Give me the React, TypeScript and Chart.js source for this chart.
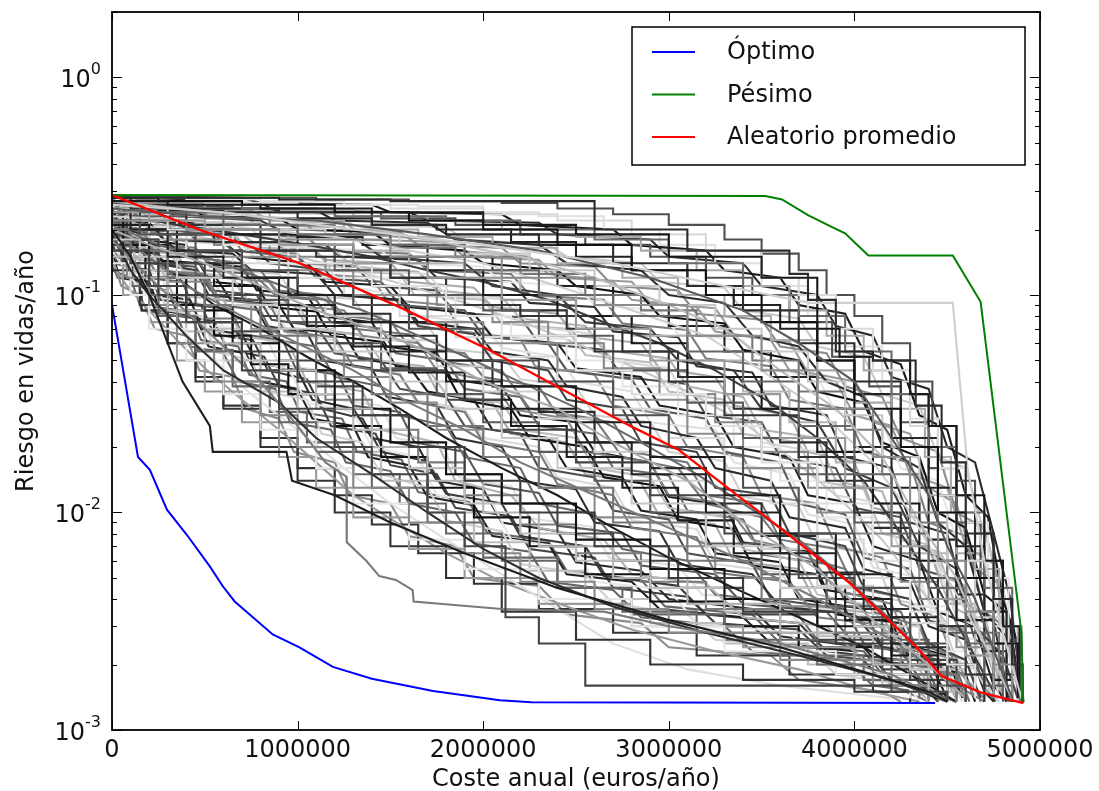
import React, { useEffect, useRef } from "react";
import { Chart, registerables } from "chart.js";

Chart.register(...registerables);

const FONT = '"DejaVu Sans", "Liberation Sans", sans-serif';

// Axis ranges and ticks
const costMax = 5000000;
const costTicks = [0, 1000000, 2000000, 3000000, 4000000, 5000000];
const riskMin = 0.001;
const riskMax = 2;
const riskDecades = [-3, -2, -1, 0];

const xTitle = "Coste anual (euros/año)";
const yTitle = "Riesgo en vidas/año";
const legendLabels = ["Óptimo", "Pésimo", "Aleatorio promedio"];

// Óptimo
const optimoCost = [0, 140000, 204000, 296000, 403000, 527000, 597000, 661000, 866000, 1010000, 1190000, 1400000, 1730000, 2090000, 2260000, 4435000];
const optimoRisk = [0.09, 0.018, 0.0157, 0.0103, 0.0079, 0.00565, 0.00458, 0.0039, 0.00275, 0.0024, 0.00195, 0.00172, 0.00151, 0.00137, 0.00134, 0.00133];

// Pésimo
const pesimoCost = [0, 3520000, 3610000, 3750000, 3880000, 3950000, 4075000, 4530000, 4680000, 4900000, 4910000];
const pesimoRisk = [0.288, 0.285, 0.275, 0.233, 0.205, 0.192, 0.152, 0.152, 0.093, 0.0028, 0.00133];

// Aleatorio promedio
const promedioCost = [0, 473000, 1010000, 1550000, 2030000, 2800000, 3050000, 3380000, 3520000, 3970000, 4330000, 4470000, 4680000, 4910000];
const promedioRisk = [0.288, 0.199, 0.14, 0.088, 0.056, 0.0248, 0.0195, 0.0118, 0.0096, 0.00478, 0.00243, 0.00177, 0.00149, 0.00133];

// Individual random orderings: [coste (miles de euros/año), riesgo (vidas/año)]
const randomRuns: number[][][] = [
  [[0,0.28],[400,0.28],[900,0.275],[1500,0.27],[2350,0.27],[2600,0.2],[3100,0.16],[3650,0.125],[3750,0.095],[3900,0.055],[4100,0.05],[4330,0.031],[4470,0.017],[4600,0.008],[4750,0.004],[4850,0.002],[4905,0.00135]],
  [[0,0.26],[600,0.24],[1300,0.2],[2000,0.17],[2700,0.14],[3300,0.11],[3760,0.092],[4530,0.092],[4610,0.016],[4700,0.006],[4800,0.0028],[4900,0.0014]],
  [[0,0.27],[300,0.26],[800,0.25],[1400,0.24],[2000,0.21],[2500,0.19],[3000,0.15],[3500,0.12],[3800,0.07],[3920,0.052],[4100,0.05],[4300,0.035],[4400,0.025],[4550,0.012],[4700,0.006],[4800,0.003],[4890,0.0015]],
  [[0,0.25],[500,0.23],[1100,0.22],[1700,0.19],[2300,0.16],[2900,0.12],[3400,0.085],[3700,0.06],[4000,0.04],[4200,0.022],[4400,0.012],[4500,0.007],[4650,0.004],[4780,0.002],[4850,0.0014]],
  [[0,0.22],[400,0.2],[900,0.18],[1500,0.15],[2100,0.12],[2600,0.09],[3100,0.065],[3500,0.045],[3800,0.03],[4100,0.018],[4300,0.01],[4450,0.006],[4600,0.0035],[4750,0.002],[4850,0.0014]],
  [[0,0.2],[100,0.15],[200,0.1],[380,0.04],[527,0.025],[543,0.019],[940,0.019],[970,0.014],[1200,0.012],[1500,0.009],[1900,0.0065],[2400,0.0045],[3000,0.0032],[3600,0.0024],[4100,0.0018],[4400,0.0015],[4500,0.00135]],
  [[0,0.16],[200,0.11],[400,0.075],[700,0.045],[900,0.03],[1200,0.02],[1400,0.015],[1700,0.01],[1900,0.007],[2120,0.0033],[2300,0.0025],[2550,0.0016],[3500,0.0016],[4200,0.0015],[4500,0.00135]],
  [[0,0.18],[200,0.12],[500,0.07],[800,0.04],[1000,0.025],[1150,0.017],[1263,0.0146],[1265,0.0073],[1370,0.006],[1440,0.0051],[1530,0.0049],[1620,0.0044],[1625,0.0039],[2100,0.0036],[2650,0.0035],[3000,0.003],[3600,0.0025],[4200,0.0018],[4500,0.00135]],
  [[0,0.28],[250,0.27],[700,0.26],[1200,0.24],[1600,0.22],[2000,0.2],[2400,0.17],[2800,0.13],[3200,0.1],[3500,0.075],[3800,0.05],[4000,0.03],[4250,0.02],[4450,0.01],[4600,0.005],[4750,0.0025],[4880,0.0014]],
  [[0,0.27],[350,0.25],[800,0.23],[1300,0.21],[1700,0.18],[2200,0.15],[2600,0.12],[3000,0.09],[3300,0.07],[3600,0.045],[3900,0.03],[4150,0.018],[4350,0.009],[4550,0.005],[4700,0.0025],[4850,0.0014]],
  [[0,0.26],[150,0.24],[600,0.21],[1000,0.19],[1500,0.17],[1900,0.13],[2300,0.1],[2700,0.08],[3100,0.055],[3400,0.04],[3700,0.025],[4000,0.015],[4200,0.008],[4400,0.0045],[4600,0.0025],[4800,0.0015]],
  [[0,0.24],[200,0.22],[500,0.2],[900,0.17],[1300,0.14],[1700,0.12],[2100,0.095],[2500,0.07],[2900,0.05],[3300,0.035],[3600,0.022],[3950,0.013],[4200,0.007],[4400,0.004],[4600,0.0022],[4750,0.0014]],
  [[0,0.28],[100,0.25],[400,0.21],[800,0.16],[1100,0.15],[1500,0.12],[1900,0.09],[2200,0.08],[2600,0.055],[3000,0.04],[3300,0.028],[3700,0.018],[4000,0.01],[4250,0.005],[4450,0.003],[4600,0.0018],[4700,0.00135]],
  [[0,0.25],[300,0.2],[600,0.17],[1000,0.14],[1400,0.11],[1800,0.08],[2100,0.065],[2500,0.045],[2800,0.035],[3200,0.025],[3500,0.017],[3800,0.011],[4100,0.006],[4300,0.0035],[4500,0.002],[4650,0.0014]],
  [[0,0.22],[150,0.19],[450,0.16],[700,0.13],[1000,0.11],[1300,0.09],[1600,0.07],[2000,0.05],[2300,0.04],[2700,0.028],[3000,0.02],[3400,0.013],[3700,0.008],[4000,0.0045],[4300,0.0025],[4500,0.0016],[4600,0.00135]],
  [[0,0.2],[200,0.17],[500,0.14],[800,0.11],[1100,0.085],[1400,0.07],[1700,0.055],[2000,0.04],[2400,0.03],[2700,0.021],[3100,0.014],[3400,0.009],[3800,0.0055],[4100,0.0032],[4400,0.002],[4600,0.0014]],
  [[0,0.24],[100,0.2],[300,0.15],[600,0.12],[900,0.09],[1200,0.075],[1500,0.055],[1800,0.04],[2100,0.03],[2500,0.021],[2800,0.015],[3200,0.01],[3600,0.0065],[3900,0.004],[4200,0.0025],[4450,0.0015]],
  [[0,0.18],[150,0.15],[350,0.12],[650,0.09],[900,0.07],[1200,0.055],[1500,0.04],[1800,0.03],[2100,0.022],[2400,0.016],[2800,0.011],[3200,0.007],[3600,0.0045],[4000,0.003],[4300,0.0019],[4500,0.0014]],
  [[0,0.2],[100,0.16],[300,0.12],[500,0.09],[800,0.065],[1100,0.05],[1400,0.035],[1700,0.025],[2000,0.018],[2300,0.013],[2700,0.009],[3100,0.006],[3500,0.004],[3900,0.0028],[4300,0.0018],[4550,0.00135]],
  [[0,0.17],[100,0.14],[250,0.1],[500,0.075],[700,0.055],[1000,0.04],[1300,0.028],[1600,0.02],[1900,0.014],[2200,0.01],[2600,0.007],[3000,0.005],[3400,0.0035],[3900,0.0025],[4300,0.0017],[4500,0.0014]],
  [[0,0.15],[150,0.12],[300,0.085],[500,0.06],[800,0.045],[1100,0.03],[1400,0.02],[1700,0.014],[2000,0.01],[2300,0.007],[2700,0.005],[3100,0.0038],[3600,0.0028],[4100,0.002],[4400,0.0015],[4550,0.00135]],
  [[0,0.19],[100,0.13],[200,0.1],[400,0.065],[600,0.045],[900,0.032],[1100,0.022],[1400,0.015],[1700,0.01],[2000,0.0068],[2300,0.005],[2700,0.0037],[3200,0.0028],[3700,0.0022],[4200,0.0017],[4450,0.0014]],
  [[0,0.16],[80,0.12],[200,0.09],[350,0.06],[550,0.04],[800,0.028],[1000,0.02],[1300,0.013],[1600,0.009],[1900,0.0065],[2200,0.0048],[2600,0.0036],[3000,0.0028],[3600,0.0021],[4100,0.0016],[4400,0.00135]],
  [[0,0.14],[100,0.1],[200,0.07],[400,0.05],[600,0.035],[800,0.024],[1100,0.016],[1300,0.011],[1600,0.0075],[1900,0.0055],[2300,0.004],[2800,0.003],[3300,0.0023],[3900,0.0018],[4300,0.0014]],
  [[0,0.27],[500,0.265],[1000,0.26],[1500,0.25],[2000,0.235],[2400,0.22],[2800,0.19],[3200,0.16],[3500,0.12],[3700,0.1],[3900,0.07],[4100,0.045],[4300,0.025],[4450,0.012],[4600,0.006],[4750,0.003],[4900,0.0014]],
  [[0,0.28],[200,0.27],[700,0.25],[1200,0.23],[1800,0.22],[2200,0.2],[2600,0.18],[3000,0.14],[3400,0.1],[3700,0.08],[3950,0.055],[4200,0.035],[4400,0.02],[4550,0.01],[4700,0.0045],[4850,0.002],[4905,0.00135]],
  [[0,0.26],[300,0.25],[900,0.24],[1400,0.21],[1800,0.19],[2300,0.17],[2700,0.14],[3100,0.11],[3400,0.085],[3700,0.06],[4000,0.04],[4250,0.022],[4450,0.012],[4650,0.006],[4800,0.003],[4900,0.0014]],
  [[0,0.23],[400,0.22],[800,0.2],[1200,0.185],[1600,0.16],[2000,0.14],[2400,0.11],[2800,0.085],[3200,0.065],[3500,0.045],[3800,0.03],[4100,0.017],[4300,0.01],[4500,0.005],[4700,0.0025],[4850,0.0014]],
  [[0,0.21],[200,0.2],[600,0.19],[1000,0.17],[1300,0.15],[1700,0.13],[2000,0.1],[2400,0.08],[2800,0.06],[3100,0.042],[3500,0.03],[3800,0.019],[4100,0.011],[4350,0.006],[4550,0.0032],[4750,0.0017],[4850,0.00135]],
  [[0,0.27],[100,0.23],[400,0.19],[800,0.17],[1200,0.13],[1600,0.1],[2000,0.085],[2300,0.065],[2700,0.045],[3100,0.032],[3400,0.022],[3700,0.015],[4000,0.009],[4300,0.005],[4500,0.0028],[4700,0.0016],[4800,0.00135]],
  [[0,0.2],[300,0.18],[600,0.15],[900,0.13],[1300,0.1],[1700,0.075],[2000,0.06],[2400,0.045],[2700,0.033],[3100,0.023],[3400,0.016],[3800,0.01],[4100,0.0065],[4350,0.004],[4550,0.0024],[4700,0.0015]],
  [[0,0.26],[150,0.2],[350,0.16],[700,0.12],[1000,0.1],[1400,0.075],[1800,0.05],[2100,0.038],[2500,0.026],[2900,0.018],[3300,0.012],[3600,0.008],[3900,0.0052],[4200,0.0033],[4450,0.002],[4650,0.0014]],
  [[0,0.22],[80,0.18],[250,0.14],[500,0.1],[800,0.08],[1100,0.06],[1400,0.045],[1800,0.033],[2100,0.024],[2500,0.017],[2900,0.012],[3300,0.008],[3700,0.005],[4000,0.0033],[4300,0.0021],[4550,0.0014]],
  [[0,0.19],[200,0.15],[400,0.11],[700,0.08],[1000,0.06],[1300,0.045],[1600,0.032],[1900,0.024],[2200,0.017],[2600,0.012],[3000,0.0085],[3400,0.006],[3800,0.004],[4200,0.0026],[4500,0.0017],[4700,0.00135]],
  [[0,0.23],[60,0.17],[200,0.12],[400,0.085],[650,0.06],[900,0.045],[1200,0.03],[1500,0.021],[1800,0.015],[2100,0.011],[2500,0.0075],[2900,0.0055],[3300,0.004],[3800,0.003],[4200,0.002],[4500,0.0015]],
  [[0,0.17],[120,0.13],[300,0.1],[500,0.07],[700,0.05],[1000,0.035],[1300,0.024],[1600,0.016],[1900,0.011],[2200,0.008],[2500,0.006],[2900,0.0045],[3300,0.0035],[3800,0.0027],[4300,0.0019],[4600,0.0014]],
  [[0,0.15],[100,0.11],[250,0.08],[450,0.055],[650,0.038],[900,0.026],[1100,0.019],[1400,0.013],[1700,0.009],[2000,0.0062],[2400,0.0045],[2800,0.0034],[3300,0.0026],[3800,0.002],[4200,0.0016],[4450,0.00135]],
  [[0,0.14],[60,0.1],[200,0.075],[350,0.05],[500,0.036],[700,0.026],[900,0.018],[1100,0.013],[1300,0.0095],[1600,0.0068],[1900,0.005],[2300,0.0038],[2800,0.003],[3400,0.0024],[4000,0.0018],[4400,0.0014]],
  [[0,0.13],[150,0.09],[300,0.06],[450,0.04],[600,0.03],[800,0.02],[1000,0.014],[1200,0.01],[1500,0.007],[1800,0.005],[2100,0.0035],[2500,0.0026],[2900,0.002],[3400,0.0017],[4000,0.0015],[4300,0.00135]],
  [[0,0.16],[100,0.12],[300,0.08],[500,0.055],[750,0.035],[1000,0.024],[1250,0.016],[1500,0.011],[1800,0.0075],[2100,0.0052],[2400,0.0036],[2700,0.0025],[3100,0.0019],[3600,0.0016],[4200,0.0014]],
  [[0,0.285],[300,0.28],[700,0.28],[1100,0.275],[1600,0.27],[2100,0.265],[2400,0.25],[2700,0.235],[3000,0.21],[3300,0.18],[3500,0.155],[3700,0.13],[3850,0.1],[4000,0.08],[4150,0.06],[4300,0.04],[4420,0.025],[4550,0.014],[4650,0.008],[4750,0.004],[4850,0.002],[4905,0.00135]],
  [[0,0.27],[150,0.265],[500,0.25],[900,0.245],[1300,0.23],[1700,0.22],[2100,0.2],[2500,0.185],[2850,0.16],[3150,0.13],[3400,0.11],[3650,0.085],[3850,0.065],[4050,0.045],[4200,0.03],[4380,0.018],[4520,0.01],[4650,0.0055],[4780,0.003],[4880,0.0016],[4905,0.00135]],
  [[0,0.25],[250,0.245],[600,0.24],[1000,0.225],[1400,0.21],[1750,0.2],[2150,0.175],[2500,0.15],[2800,0.13],[3100,0.11],[3350,0.09],[3600,0.07],[3800,0.05],[4000,0.035],[4200,0.022],[4400,0.013],[4550,0.007],[4700,0.0035],[4820,0.0018],[4900,0.0014]],
  [[0,0.23],[100,0.22],[450,0.215],[800,0.2],[1150,0.19],[1550,0.17],[1900,0.155],[2250,0.13],[2600,0.11],[2950,0.09],[3250,0.07],[3500,0.055],[3750,0.04],[3950,0.028],[4150,0.018],[4350,0.01],[4500,0.006],[4650,0.0033],[4800,0.0017],[4880,0.00135]],
  [[0,0.26],[200,0.24],[500,0.225],[850,0.21],[1200,0.19],[1500,0.165],[1850,0.15],[2200,0.125],[2550,0.1],[2850,0.085],[3150,0.065],[3450,0.05],[3700,0.036],[3950,0.024],[4150,0.015],[4350,0.009],[4500,0.005],[4650,0.0028],[4780,0.0016],[4850,0.00135]],
  [[0,0.24],[100,0.23],[350,0.21],[700,0.19],[1050,0.17],[1400,0.15],[1700,0.13],[2000,0.115],[2350,0.095],[2650,0.075],[2950,0.06],[3250,0.045],[3550,0.032],[3800,0.022],[4050,0.014],[4250,0.008],[4450,0.0045],[4600,0.0026],[4750,0.0015]],
  [[0,0.28],[120,0.26],[300,0.23],[600,0.2],[950,0.18],[1300,0.16],[1600,0.14],[1900,0.12],[2200,0.1],[2500,0.08],[2800,0.065],[3100,0.05],[3400,0.036],[3650,0.026],[3900,0.017],[4100,0.011],[4300,0.0065],[4500,0.0038],[4650,0.0022],[4800,0.0014]],
  [[0,0.2],[250,0.19],[550,0.175],[900,0.16],[1200,0.14],[1500,0.12],[1800,0.1],[2100,0.085],[2450,0.07],[2750,0.055],[3050,0.042],[3350,0.03],[3600,0.021],[3850,0.014],[4100,0.0085],[4300,0.005],[4500,0.003],[4650,0.0018],[4750,0.00135]],
  [[0,0.25],[80,0.22],[300,0.2],[550,0.17],[850,0.15],[1150,0.13],[1450,0.11],[1750,0.09],[2050,0.075],[2350,0.06],[2650,0.046],[2950,0.035],[3250,0.026],[3500,0.019],[3750,0.013],[4000,0.008],[4250,0.0048],[4450,0.0029],[4600,0.0018],[4700,0.00135]],
  [[0,0.27],[100,0.24],[350,0.2],[650,0.17],[950,0.14],[1250,0.12],[1550,0.1],[1850,0.08],[2150,0.063],[2450,0.05],[2750,0.038],[3050,0.028],[3350,0.02],[3600,0.014],[3850,0.0095],[4100,0.006],[4300,0.0037],[4500,0.0023],[4650,0.0015]],
  [[0,0.21],[150,0.19],[400,0.16],[700,0.14],[950,0.12],[1250,0.1],[1550,0.08],[1850,0.064],[2100,0.052],[2400,0.04],[2700,0.03],[3000,0.022],[3300,0.016],[3550,0.011],[3800,0.0075],[4050,0.005],[4300,0.0031],[4500,0.002],[4650,0.0014]],
  [[0,0.23],[60,0.2],[250,0.17],[500,0.15],[800,0.12],[1050,0.1],[1350,0.085],[1650,0.065],[1950,0.05],[2250,0.038],[2550,0.029],[2850,0.021],[3150,0.015],[3400,0.011],[3700,0.0075],[3950,0.005],[4200,0.0032],[4400,0.0021],[4600,0.0014]],
  [[0,0.18],[200,0.16],[450,0.14],[700,0.12],[950,0.1],[1200,0.082],[1500,0.065],[1750,0.05],[2050,0.038],[2300,0.029],[2600,0.021],[2900,0.016],[3200,0.011],[3500,0.0078],[3800,0.0053],[4050,0.0036],[4300,0.0024],[4500,0.0016],[4600,0.00135]],
  [[0,0.26],[50,0.22],[200,0.18],[400,0.15],[650,0.12],[900,0.1],[1150,0.08],[1450,0.062],[1750,0.047],[2000,0.036],[2300,0.027],[2600,0.019],[2900,0.014],[3200,0.0098],[3500,0.0068],[3800,0.0046],[4100,0.003],[4350,0.002],[4550,0.0014]],
  [[0,0.2],[100,0.17],[300,0.14],[550,0.11],[800,0.09],[1050,0.072],[1300,0.058],[1600,0.044],[1900,0.033],[2150,0.025],[2450,0.018],[2750,0.013],[3050,0.0092],[3350,0.0065],[3650,0.0045],[3950,0.0032],[4200,0.0022],[4450,0.0015]],
  [[0,0.22],[80,0.18],[250,0.15],[450,0.12],[700,0.095],[950,0.075],[1200,0.06],[1450,0.046],[1750,0.035],[2000,0.026],[2300,0.019],[2600,0.014],[2900,0.01],[3200,0.0072],[3500,0.0052],[3850,0.0037],[4150,0.0026],[4400,0.0018],[4550,0.0014]],
  [[0,0.17],[120,0.14],[300,0.115],[500,0.09],[750,0.07],[1000,0.055],[1250,0.042],[1500,0.032],[1750,0.024],[2000,0.018],[2300,0.013],[2600,0.0095],[2900,0.007],[3250,0.005],[3600,0.0037],[3950,0.0027],[4250,0.002],[4500,0.0015]],
  [[0,0.25],[50,0.2],[150,0.16],[350,0.12],[550,0.09],[800,0.07],[1050,0.052],[1300,0.04],[1550,0.03],[1800,0.022],[2100,0.016],[2400,0.012],[2700,0.0085],[3000,0.0062],[3350,0.0045],[3700,0.0033],[4050,0.0024],[4350,0.0017],[4550,0.00135]],
  [[0,0.19],[100,0.15],[250,0.12],[450,0.09],[650,0.068],[900,0.05],[1100,0.038],[1350,0.028],[1600,0.02],[1850,0.015],[2100,0.011],[2400,0.008],[2700,0.006],[3050,0.0045],[3400,0.0034],[3800,0.0026],[4150,0.0019],[4400,0.0015]],
  [[0,0.16],[150,0.13],[300,0.1],[500,0.078],[700,0.06],[900,0.045],[1150,0.033],[1400,0.024],[1650,0.017],[1900,0.012],[2200,0.0088],[2500,0.0065],[2850,0.0048],[3200,0.0036],[3600,0.0028],[4000,0.0021],[4300,0.0016],[4500,0.00135]],
  [[0,0.21],[60,0.16],[180,0.12],[350,0.09],[550,0.065],[750,0.048],[950,0.035],[1200,0.025],[1450,0.018],[1700,0.013],[1950,0.0095],[2250,0.007],[2550,0.0052],[2900,0.0039],[3300,0.003],[3700,0.0024],[4100,0.0018],[4400,0.0014]],
  [[0,0.15],[100,0.12],[250,0.09],[400,0.068],[600,0.05],[800,0.036],[1000,0.026],[1200,0.019],[1450,0.014],[1700,0.01],[1950,0.0073],[2250,0.0054],[2550,0.004],[2900,0.0031],[3300,0.0025],[3750,0.002],[4150,0.0016],[4400,0.00135]],
  [[0,0.18],[50,0.14],[150,0.1],[300,0.075],[450,0.056],[650,0.04],[850,0.029],[1050,0.021],[1300,0.015],[1550,0.011],[1800,0.008],[2100,0.006],[2400,0.0045],[2750,0.0035],[3150,0.0028],[3600,0.0022],[4050,0.0017],[4350,0.0014]],
  [[0,0.14],[80,0.11],[200,0.085],[350,0.062],[500,0.046],[700,0.033],[900,0.024],[1100,0.017],[1300,0.012],[1550,0.0088],[1800,0.0065],[2100,0.0048],[2450,0.0037],[2800,0.0029],[3250,0.0023],[3700,0.0019],[4100,0.0015],[4350,0.00135]],
  [[0,0.17],[60,0.12],[160,0.085],[300,0.06],[450,0.042],[600,0.031],[800,0.022],[1000,0.016],[1200,0.012],[1400,0.0088],[1650,0.0065],[1950,0.0047],[2300,0.0036],[2700,0.0028],[3150,0.0022],[3650,0.0018],[4100,0.0015],[4300,0.00135]],
  [[0,0.28],[400,0.275],[800,0.27],[1250,0.26],[1650,0.255],[2000,0.24],[2300,0.23],[2650,0.2],[2950,0.17],[3250,0.14],[3500,0.11],[3750,0.08],[3950,0.058],[4150,0.04],[4300,0.027],[4450,0.016],[4600,0.009],[4720,0.005],[4830,0.0025],[4900,0.0014]],
  [[0,0.26],[200,0.255],[650,0.25],[1100,0.24],[1450,0.225],[1850,0.21],[2200,0.19],[2550,0.17],[2900,0.15],[3200,0.12],[3450,0.1],[3650,0.075],[3880,0.052],[4080,0.038],[4250,0.026],[4400,0.016],[4550,0.009],[4680,0.005],[4800,0.0026],[4900,0.0014]],
  [[0,0.27],[150,0.25],[450,0.24],[850,0.22],[1250,0.2],[1650,0.185],[2050,0.165],[2400,0.14],[2750,0.12],[3050,0.1],[3300,0.08],[3550,0.062],[3800,0.045],[4000,0.032],[4200,0.02],[4400,0.012],[4550,0.0065],[4700,0.0035],[4820,0.0018],[4900,0.00135]],
  [[0,0.22],[300,0.215],[650,0.2],[1000,0.185],[1350,0.17],[1700,0.15],[2050,0.13],[2400,0.11],[2700,0.09],[3000,0.072],[3300,0.055],[3550,0.042],[3800,0.03],[4000,0.02],[4200,0.013],[4400,0.0075],[4550,0.0042],[4700,0.0023],[4820,0.0014]],
  [[0,0.23],[150,0.21],[400,0.19],[700,0.17],[1000,0.15],[1300,0.13],[1600,0.11],[1900,0.092],[2200,0.076],[2500,0.06],[2800,0.047],[3100,0.036],[3400,0.026],[3650,0.018],[3900,0.012],[4150,0.0075],[4350,0.0045],[4550,0.0027],[4700,0.0016],[4780,0.00135]],
  [[0,0.24],[90,0.2],[300,0.19],[420,0.15],[700,0.14],[880,0.1],[1150,0.095],[1300,0.07],[1600,0.066],[1750,0.05],[2100,0.045],[2250,0.03],[2600,0.027],[2750,0.018],[3050,0.016],[3200,0.011],[3500,0.0095],[3650,0.0065],[3950,0.0055],[4100,0.0035],[4350,0.003],[4450,0.0018],[4600,0.0014]],
  [[0,0.27],[200,0.26],[350,0.23],[800,0.22],[950,0.19],[1300,0.185],[1450,0.15],[1900,0.14],[2050,0.11],[2400,0.1],[2550,0.075],[2900,0.07],[3050,0.05],[3350,0.045],[3500,0.03],[3800,0.026],[3950,0.016],[4200,0.013],[4350,0.007],[4550,0.0055],[4650,0.003],[4800,0.0022],[4880,0.0014]],
  [[0,0.19],[60,0.15],[250,0.14],[330,0.1],[600,0.095],[700,0.065],[950,0.06],[1050,0.04],[1350,0.036],[1450,0.024],[1750,0.021],[1850,0.014],[2150,0.012],[2300,0.0085],[2650,0.0075],[2800,0.0052],[3200,0.0047],[3400,0.0033],[3850,0.003],[4050,0.0021],[4350,0.0019],[4450,0.0014]],
  [[0,0.28],[500,0.275],[600,0.25],[1100,0.245],[1200,0.22],[1700,0.215],[1850,0.18],[2300,0.17],[2450,0.14],[2850,0.13],[3000,0.1],[3300,0.092],[3450,0.065],[3700,0.058],[3850,0.04],[4050,0.034],[4150,0.02],[4350,0.016],[4450,0.009],[4600,0.007],[4700,0.0035],[4850,0.0025],[4900,0.0014]],
  [[0,0.21],[150,0.2],[230,0.16],[500,0.15],[600,0.12],[850,0.115],[950,0.09],[1250,0.085],[1350,0.065],[1650,0.06],[1750,0.045],[2050,0.04],[2150,0.03],[2450,0.027],[2550,0.019],[2900,0.017],[3000,0.012],[3300,0.011],[3450,0.0075],[3750,0.0065],[3900,0.0044],[4200,0.0038],[4300,0.0024],[4550,0.0021],[4650,0.0014]],
  [[0,0.16],[100,0.15],[180,0.11],[380,0.1],[450,0.075],[650,0.07],[730,0.05],[950,0.046],[1050,0.032],[1300,0.029],[1400,0.02],[1650,0.018],[1750,0.012],[2050,0.011],[2150,0.0075],[2500,0.0068],[2600,0.0048],[3000,0.0044],[3150,0.0031],[3650,0.0028],[3800,0.002],[4250,0.0018],[4350,0.00135]],
  [[0,0.26],[300,0.25],[400,0.21],[750,0.2],[850,0.17],[1250,0.16],[1350,0.13],[1700,0.125],[1800,0.1],[2150,0.095],[2250,0.072],[2600,0.066],[2700,0.05],[3000,0.046],[3100,0.033],[3400,0.03],[3500,0.021],[3800,0.019],[3900,0.012],[4150,0.011],[4250,0.0065],[4450,0.0058],[4550,0.0033],[4700,0.0029],[4780,0.0014]],
  [[0,0.23],[40,0.18],[200,0.17],[280,0.13],[500,0.12],[580,0.09],[800,0.085],[880,0.062],[1100,0.058],[1200,0.042],[1450,0.038],[1550,0.028],[1800,0.025],[1900,0.018],[2200,0.016],[2300,0.011],[2600,0.0098],[2750,0.0068],[3100,0.006],[3250,0.0042],[3650,0.0038],[3800,0.0026],[4250,0.0023],[4400,0.0015],[4550,0.00135]],
  [[0,0.2],[250,0.19],[350,0.16],[650,0.155],[750,0.13],[1100,0.125],[1200,0.1],[1550,0.095],[1650,0.075],[1950,0.07],[2050,0.055],[2350,0.05],[2450,0.038],[2750,0.034],[2850,0.025],[3150,0.022],[3250,0.016],[3550,0.014],[3650,0.0095],[3950,0.0085],[4050,0.0055],[4300,0.0048],[4400,0.003],[4600,0.0026],[4700,0.0015],[4750,0.00135]],
  [[0,0.18],[80,0.13],[220,0.12],[300,0.085],[480,0.08],[560,0.055],[750,0.05],[830,0.036],[1050,0.033],[1130,0.023],[1350,0.021],[1450,0.015],[1700,0.013],[1800,0.0092],[2100,0.0082],[2200,0.0058],[2550,0.0052],[2700,0.0038],[3100,0.0034],[3250,0.0026],[3750,0.0024],[3900,0.0018],[4300,0.0016],[4400,0.00135]],
  [[0,0.285],[700,0.28],[800,0.265],[1400,0.26],[1500,0.24],[2100,0.235],[2200,0.21],[2700,0.2],[2800,0.17],[3200,0.16],[3300,0.13],[3600,0.12],[3700,0.09],[3950,0.082],[4050,0.055],[4250,0.048],[4350,0.028],[4500,0.024],[4600,0.012],[4720,0.0095],[4800,0.004],[4880,0.0025],[4910,0.00135]],
  [[0,0.25],[120,0.24],[200,0.2],[550,0.19],[650,0.16],[1000,0.15],[1100,0.12],[1450,0.115],[1550,0.09],[1900,0.085],[2000,0.065],[2350,0.06],[2450,0.045],[2800,0.041],[2900,0.03],[3200,0.027],[3300,0.019],[3600,0.017],[3700,0.011],[3950,0.0098],[4050,0.0062],[4300,0.0055],[4400,0.0032],[4600,0.0028],[4700,0.0016],[4760,0.00135]],
  [[0,0.15],[50,0.11],[150,0.1],[230,0.07],[400,0.065],[470,0.045],[650,0.042],[720,0.03],[900,0.027],[980,0.019],[1200,0.017],[1280,0.012],[1500,0.011],[1600,0.0078],[1850,0.007],[1950,0.005],[2300,0.0046],[2450,0.0034],[2850,0.0031],[3000,0.0024],[3550,0.0022],[3700,0.0017],[4150,0.0015],[4250,0.00135]],
  [[0,0.22],[200,0.215],[280,0.18],[600,0.175],[700,0.15],[1050,0.14],[1150,0.115],[1500,0.11],[1600,0.088],[1950,0.082],[2050,0.064],[2400,0.06],[2500,0.046],[2850,0.042],[2950,0.031],[3250,0.028],[3350,0.02],[3650,0.018],[3750,0.012],[4000,0.011],[4100,0.007],[4350,0.006],[4450,0.0035],[4650,0.003],[4750,0.0016],[4820,0.00135]],
  [[0,0.27],[80,0.23],[350,0.22],[450,0.18],[750,0.17],[850,0.14],[1150,0.13],[1250,0.1],[1550,0.095],[1650,0.072],[1950,0.066],[2050,0.05],[2350,0.045],[2450,0.033],[2750,0.03],[2850,0.021],[3150,0.019],[3250,0.013],[3550,0.012],[3650,0.008],[3950,0.007],[4050,0.0045],[4300,0.004],[4400,0.0025],[4600,0.0021],[4680,0.0014]],
  [[0,0.17],[150,0.165],[230,0.13],[500,0.125],[580,0.095],[850,0.09],[930,0.068],[1200,0.064],[1300,0.047],[1550,0.043],[1650,0.032],[1900,0.029],[2000,0.021],[2300,0.019],[2400,0.0135],[2700,0.012],[2800,0.0085],[3150,0.0077],[3250,0.0053],[3650,0.0048],[3800,0.0033],[4200,0.003],[4300,0.002],[4550,0.0018],[4600,0.00135]],
  [[0,0.26],[400,0.255],[500,0.23],[900,0.225],[1000,0.2],[1400,0.195],[1500,0.17],[1900,0.16],[2000,0.14],[2400,0.13],[2500,0.11],[2850,0.1],[2950,0.08],[3300,0.074],[3400,0.056],[3700,0.05],[3800,0.036],[4050,0.032],[4150,0.021],[4350,0.018],[4450,0.01],[4600,0.0085],[4700,0.0042],[4830,0.0034],[4900,0.00135]],
  [[0,0.2],[60,0.17],[300,0.16],[380,0.13],[650,0.12],[730,0.095],[1000,0.09],[1080,0.07],[1350,0.065],[1450,0.05],[1700,0.046],[1800,0.035],[2100,0.032],[2200,0.024],[2500,0.022],[2600,0.016],[2900,0.0145],[3000,0.0105],[3300,0.0095],[3400,0.0068],[3700,0.006],[3800,0.0042],[4100,0.0037],[4200,0.0025],[4450,0.0022],[4550,0.0014]],
  [[0,0.13],[100,0.12],[160,0.085],[350,0.08],[420,0.058],[600,0.054],[680,0.04],[880,0.037],[960,0.026],[1180,0.024],[1260,0.017],[1500,0.0155],[1600,0.011],[1850,0.01],[1950,0.0072],[2250,0.0066],[2350,0.0048],[2700,0.0044],[2850,0.0033],[3300,0.003],[3450,0.0023],[3950,0.0021],[4100,0.0016],[4350,0.0015],[4400,0.00135]],
  [[0,0.28],[250,0.27],[350,0.25],[750,0.245],[850,0.22],[1250,0.215],[1350,0.19],[1750,0.18],[1850,0.16],[2250,0.15],[2350,0.125],[2700,0.115],[2800,0.095],[3150,0.088],[3250,0.068],[3550,0.062],[3650,0.045],[3900,0.04],[4000,0.028],[4200,0.025],[4300,0.015],[4500,0.013],[4600,0.007],[4750,0.0058],[4830,0.0025],[4900,0.0014]],
  [[0,0.24],[50,0.19],[150,0.18],[230,0.14],[450,0.13],[520,0.1],[750,0.095],[830,0.072],[1050,0.067],[1130,0.05],[1400,0.046],[1480,0.034],[1750,0.031],[1850,0.022],[2100,0.02],[2200,0.014],[2500,0.0128],[2600,0.009],[2950,0.0082],[3050,0.0058],[3450,0.0052],[3600,0.0037],[4000,0.0034],[4150,0.0024],[4450,0.0021],[4550,0.0014]],
  [[0,0.21],[300,0.205],[400,0.175],[700,0.17],[800,0.14],[1150,0.135],[1250,0.11],[1550,0.1],[1650,0.08],[2000,0.074],[2100,0.057],[2400,0.052],[2500,0.04],[2800,0.036],[2900,0.026],[3250,0.024],[3350,0.017],[3650,0.015],[3750,0.0098],[4000,0.0088],[4100,0.0056],[4350,0.005],[4450,0.0029],[4650,0.0026],[4720,0.0014]],
  [[0,0.19],[120,0.18],[200,0.14],[450,0.135],[530,0.105],[780,0.1],[860,0.077],[1100,0.072],[1200,0.054],[1450,0.05],[1550,0.037],[1800,0.034],[1900,0.025],[2200,0.023],[2300,0.016],[2600,0.0145],[2700,0.0102],[3000,0.0093],[3100,0.0065],[3450,0.0058],[3550,0.004],[3950,0.0036],[4050,0.0025],[4350,0.0022],[4450,0.00135]],
  [[0,0.25],[150,0.245],[250,0.21],[600,0.2],[700,0.175],[1050,0.17],[1150,0.145],[1500,0.14],[1600,0.115],[1950,0.108],[2050,0.088],[2400,0.082],[2500,0.065],[2850,0.06],[2950,0.046],[3250,0.042],[3350,0.031],[3650,0.028],[3750,0.019],[4000,0.017],[4100,0.0105],[4350,0.0094],[4450,0.0052],[4600,0.0046],[4700,0.0024],[4800,0.0014]],
  [[0,0.16],[40,0.12],[200,0.115],[260,0.085],[450,0.08],[520,0.058],[720,0.054],[800,0.04],[1000,0.037],[1080,0.027],[1300,0.025],[1380,0.018],[1600,0.0165],[1700,0.0118],[1950,0.0108],[2050,0.0078],[2350,0.0072],[2450,0.0052],[2800,0.0048],[2950,0.0036],[3400,0.0033],[3550,0.0025],[4000,0.0023],[4150,0.0017],[4400,0.0015],[4450,0.00135]],
  [[0,0.27],[600,0.265],[700,0.24],[1200,0.235],[1300,0.21],[1800,0.205],[1900,0.18],[2350,0.17],[2450,0.15],[2850,0.14],[2950,0.115],[3300,0.108],[3400,0.085],[3700,0.078],[3800,0.058],[4050,0.052],[4150,0.035],[4350,0.031],[4450,0.018],[4600,0.016],[4700,0.008],[4800,0.0045],[4900,0.0014]],
  [[0,0.22],[100,0.21],[180,0.17],[450,0.165],[530,0.135],[800,0.13],[880,0.105],[1150,0.1],[1250,0.08],[1500,0.076],[1600,0.058],[1900,0.054],[2000,0.042],[2300,0.038],[2400,0.028],[2700,0.026],[2800,0.019],[3100,0.017],[3200,0.012],[3500,0.011],[3600,0.0075],[3900,0.0068],[4000,0.0045],[4300,0.004],[4400,0.0024],[4600,0.0021],[4680,0.00135]],
  [[0,0.14],[200,0.13],[260,0.095],[480,0.09],[550,0.066],[760,0.062],[840,0.045],[1050,0.041],[1130,0.03],[1350,0.027],[1450,0.019],[1700,0.0172],[1800,0.0122],[2100,0.011],[2200,0.0078],[2550,0.007],[2650,0.0051],[3050,0.0046],[3200,0.0034],[3700,0.0031],[3850,0.0023],[4250,0.0021],[4400,0.00145],[4500,0.00135]],
  [[0,0.23],[200,0.225],[300,0.2],[700,0.19],[800,0.165],[1200,0.16],[1300,0.135],[1650,0.128],[1750,0.105],[2100,0.098],[2200,0.078],[2550,0.072],[2650,0.056],[3000,0.051],[3100,0.038],[3400,0.034],[3500,0.024],[3800,0.022],[3900,0.014],[4150,0.0125],[4250,0.0075],[4450,0.0066],[4550,0.0036],[4700,0.0031],[4800,0.0014]],
  [[0,0.18],[30,0.14],[150,0.13],[220,0.1],[420,0.095],[490,0.07],[700,0.066],[780,0.049],[1000,0.045],[1080,0.033],[1300,0.03],[1400,0.022],[1650,0.02],[1750,0.014],[2000,0.0128],[2100,0.009],[2400,0.0082],[2500,0.0059],[2850,0.0054],[3000,0.004],[3450,0.0036],[3600,0.0027],[4050,0.0024],[4200,0.0017],[4450,0.0015],[4500,0.00135]],
  [[0,0.28],[60,0.25],[260,0.245],[320,0.2],[620,0.195],[700,0.16],[1000,0.155],[1080,0.125],[1400,0.12],[1480,0.095],[1800,0.09],[1880,0.068],[2200,0.063],[2280,0.047],[2600,0.043],[2700,0.031],[3000,0.028],[3100,0.02],[3400,0.018],[3500,0.012],[3800,0.011],[3900,0.007],[4150,0.0062],[4250,0.0038],[4450,0.0033],[4550,0.0019],[4700,0.0014]],
  [[0,0.21],[350,0.205],[420,0.19],[900,0.185],[980,0.165],[1450,0.16],[1530,0.14],[2000,0.135],[2100,0.115],[2500,0.11],[2600,0.09],[2950,0.085],[3050,0.066],[3400,0.062],[3500,0.046],[3800,0.042],[3900,0.029],[4150,0.026],[4250,0.016],[4450,0.014],[4550,0.0075],[4700,0.0065],[4800,0.003],[4880,0.0014]],
  [[0,0.17],[40,0.15],[250,0.145],[300,0.12],[550,0.115],[620,0.09],[880,0.086],[950,0.066],[1200,0.062],[1280,0.047],[1550,0.044],[1630,0.033],[1900,0.03],[2000,0.022],[2300,0.02],[2400,0.0145],[2700,0.013],[2800,0.0092],[3150,0.0084],[3250,0.0058],[3600,0.0053],[3750,0.0037],[4100,0.0033],[4250,0.0022],[4500,0.002],[4580,0.00135]],
  [[0,0.25],[30,0.22],[150,0.2],[220,0.17],[420,0.16],[500,0.13],[750,0.125],[820,0.1],[1100,0.095],[1180,0.075],[1450,0.07],[1530,0.054],[1800,0.05],[1900,0.037],[2200,0.034],[2300,0.025],[2600,0.023],[2700,0.016],[3000,0.0148],[3100,0.0102],[3400,0.0093],[3500,0.0064],[3850,0.0058],[3950,0.0039],[4250,0.0035],[4350,0.0022],[4550,0.0019],[4620,0.00135]],
  [[0,0.27],[800,0.265],[880,0.245],[1600,0.24],[1700,0.22],[2300,0.215],[2400,0.19],[2900,0.18],[3000,0.15],[3400,0.14],[3500,0.11],[3800,0.1],[3900,0.072],[4100,0.065],[4200,0.042],[4400,0.037],[4500,0.02],[4650,0.017],[4750,0.008],[4840,0.004],[4905,0.0014]],
  [[0,0.19],[200,0.185],[260,0.16],[550,0.155],[620,0.13],[900,0.125],[980,0.1],[1300,0.096],[1380,0.077],[1700,0.073],[1780,0.057],[2100,0.053],[2200,0.041],[2500,0.038],[2600,0.028],[2900,0.026],[3000,0.019],[3300,0.0172],[3400,0.0118],[3700,0.0107],[3800,0.0071],[4100,0.0064],[4200,0.004],[4450,0.0036],[4550,0.0021],[4700,0.0018],[4750,0.00135]],
  [[0,0.23],[100,0.215],[160,0.18],[400,0.17],[460,0.14],[700,0.135],[780,0.105],[1050,0.1],[1120,0.08],[1400,0.075],[1480,0.058],[1750,0.054],[1830,0.041],[2100,0.038],[2200,0.028],[2500,0.026],[2600,0.019],[2900,0.017],[3000,0.0118],[3300,0.0108],[3400,0.0073],[3750,0.0066],[3850,0.0044],[4150,0.004],[4250,0.0025],[4500,0.0022],[4580,0.0014]],
  [[0,0.15],[120,0.145],[170,0.12],[380,0.115],[430,0.09],[640,0.086],[700,0.066],[920,0.062],[990,0.046],[1220,0.043],[1300,0.031],[1550,0.029],[1630,0.021],[1900,0.019],[2000,0.0135],[2300,0.0123],[2400,0.0087],[2750,0.008],[2850,0.0057],[3250,0.0052],[3400,0.0038],[3850,0.0035],[4000,0.0025],[4350,0.0023],[4450,0.0015],[4500,0.00135]],
  [[0,0.26],[450,0.255],[520,0.23],[1000,0.225],[1080,0.2],[1550,0.195],[1650,0.17],[2100,0.165],[2200,0.14],[2600,0.135],[2700,0.11],[3050,0.105],[3150,0.082],[3500,0.077],[3600,0.058],[3850,0.054],[3950,0.038],[4150,0.034],[4250,0.022],[4450,0.019],[4550,0.01],[4700,0.0085],[4800,0.004],[4870,0.0025],[4910,0.00135]],
  [[0,0.2],[40,0.16],[250,0.155],[310,0.125],[560,0.12],[640,0.095],[900,0.09],[980,0.07],[1250,0.066],[1330,0.051],[1600,0.047],[1700,0.036],[1950,0.033],[2050,0.024],[2350,0.022],[2450,0.016],[2750,0.0145],[2850,0.0102],[3150,0.0093],[3250,0.0065],[3600,0.0059],[3700,0.004],[4050,0.0036],[4150,0.0024],[4400,0.0021],[4500,0.0014]],
  [[0,0.16],[80,0.14],[140,0.11],[300,0.105],[360,0.08],[550,0.076],[620,0.056],[820,0.052],[900,0.038],[1100,0.035],[1180,0.025],[1420,0.023],[1500,0.0165],[1750,0.015],[1850,0.0105],[2150,0.0096],[2250,0.0068],[2600,0.0062],[2700,0.0045],[3100,0.0041],[3250,0.0031],[3700,0.0029],[3850,0.0022],[4300,0.002],[4400,0.0015],[4550,0.00135]],
  [[0,0.22],[500,0.215],[580,0.19],[1050,0.185],[1130,0.16],[1600,0.155],[1700,0.13],[2150,0.125],[2250,0.1],[2650,0.095],[2750,0.074],[3100,0.069],[3200,0.051],[3550,0.047],[3650,0.033],[3950,0.03],[4050,0.019],[4300,0.017],[4400,0.009],[4600,0.0078],[4700,0.0035],[4830,0.0029],[4890,0.00135]],
  [[0,0.18],[150,0.175],[210,0.145],[470,0.14],[530,0.115],[780,0.11],[850,0.088],[1100,0.084],[1180,0.065],[1450,0.061],[1530,0.047],[1800,0.044],[1880,0.033],[2150,0.03],[2250,0.022],[2550,0.02],[2650,0.0145],[2950,0.0132],[3050,0.0092],[3350,0.0084],[3450,0.0057],[3800,0.0052],[3900,0.0034],[4250,0.0031],[4350,0.002],[4600,0.0018],[4650,0.00135]],
  [[0,0.24],[250,0.235],[300,0.2],[650,0.195],[720,0.165],[1100,0.16],[1180,0.13],[1550,0.125],[1630,0.1],[2000,0.095],[2100,0.074],[2450,0.07],[2550,0.053],[2900,0.049],[3000,0.036],[3300,0.033],[3400,0.023],[3700,0.021],[3800,0.014],[4050,0.0128],[4150,0.008],[4400,0.0071],[4500,0.004],[4700,0.0035],[4800,0.0014]],
  [[0,0.14],[30,0.12],[180,0.115],[230,0.088],[420,0.084],[480,0.062],[680,0.058],[740,0.043],[940,0.04],[1010,0.029],[1240,0.027],[1320,0.019],[1560,0.0175],[1650,0.0124],[1920,0.0113],[2020,0.0081],[2350,0.0074],[2450,0.0054],[2850,0.0049],[2980,0.0037],[3450,0.0034],[3600,0.0025],[4050,0.0023],[4200,0.0016],[4400,0.00135]],
  [[0,0.28],[150,0.275],[200,0.24],[700,0.235],[780,0.21],[1250,0.205],[1330,0.18],[1800,0.175],[1900,0.15],[2300,0.145],[2400,0.12],[2800,0.115],[2900,0.092],[3250,0.087],[3350,0.066],[3650,0.061],[3750,0.044],[4000,0.04],[4100,0.026],[4300,0.023],[4400,0.013],[4550,0.011],[4650,0.0055],[4800,0.0046],[4880,0.0014]],
  [[0,0.2],[600,0.195],[680,0.175],[1150,0.17],[1230,0.15],[1650,0.145],[1750,0.12],[2150,0.115],[2250,0.092],[2600,0.088],[2700,0.068],[3050,0.064],[3150,0.047],[3450,0.044],[3550,0.031],[3850,0.028],[3950,0.018],[4200,0.016],[4300,0.009],[4500,0.008],[4600,0.0038],[4750,0.0032],[4830,0.00135]],
  [[0,0.17],[60,0.13],[260,0.125],[320,0.095],[540,0.09],[610,0.068],[830,0.064],[900,0.048],[1130,0.045],[1210,0.033],[1450,0.031],[1530,0.022],[1780,0.02],[1870,0.0145],[2150,0.0132],[2250,0.0094],[2580,0.0086],[2680,0.0062],[3050,0.0057],[3180,0.0042],[3600,0.0039],[3750,0.0028],[4150,0.0026],[4300,0.0018],[4500,0.0016],[4560,0.00135]],
  [[0,0.26],[100,0.25],[150,0.21],[500,0.205],[570,0.175],[900,0.17],[980,0.14],[1320,0.135],[1400,0.11],[1750,0.105],[1850,0.083],[2200,0.079],[2300,0.06],[2650,0.056],[2750,0.042],[3100,0.039],[3200,0.028],[3500,0.026],[3600,0.018],[3900,0.016],[4000,0.0105],[4250,0.0095],[4350,0.0055],[4550,0.0049],[4650,0.0026],[4780,0.0023],[4840,0.00135]],
  [[0,0.21],[70,0.19],[120,0.16],[350,0.155],[410,0.125],[650,0.12],[720,0.095],[980,0.09],[1060,0.07],[1330,0.066],[1410,0.05],[1680,0.047],[1760,0.035],[2050,0.032],[2150,0.023],[2450,0.021],[2550,0.015],[2850,0.0137],[2950,0.0096],[3250,0.0088],[3350,0.006],[3700,0.0055],[3800,0.0037],[4150,0.0034],[4250,0.0022],[4500,0.0019],[4580,0.0014]],
];

// Grey levels cycled over the random orderings
const greyPalette = [
  "#2b2b2b", "#cfcfcf", "#1a1a1a", "#5a5a5a", "#8c8c8c", "#1e1e1e", "#444444", "#7a7a7a",
  "#111111", "#bdbdbd", "#666666", "#9a9a9a", "#333333", "#e0e0e0", "#505050", "#aaaaaa",
  "#222222", "#c8c8c8", "#777777", "#3c3c3c", "#b4b4b4", "#2e2e2e", "#888888", "#e6e6e6",
  "#d9d9d9", "#6a6a6a",
];

// Orderings drawn with straight (slanted) segments instead of stair steps
const slantedRuns = new Set([1, 5, 7]);

const BLUE = "#0000ff";
const GREEN = "#008000";
const RED = "#ff0000";

const toPoints = (xs: number[], ys: number[]) => xs.map((x, i) => ({ x, y: ys[i] }));

const axesDecor = {
  id: "axesDecor",
  afterDraw(chart: any) {
    const { ctx, chartArea: a, scales } = chart;
    const xs = scales.x;
    const ys = scales.y;
    ctx.save();
    ctx.strokeStyle = "#000";
    ctx.fillStyle = "#000";
    ctx.lineWidth = 1;

    const seg = (x1: number, y1: number, x2: number, y2: number) => {
      ctx.beginPath();
      ctx.moveTo(x1, y1);
      ctx.lineTo(x2, y2);
      ctx.stroke();
    };

    // log ticks on left and right, pointing inwards
    for (const d of riskDecades) {
      for (let m = 1; m <= 9; m++) {
        const v = m * Math.pow(10, d);
        if (v < riskMin || v > riskMax) continue;
        const py = Math.round(ys.getPixelForValue(v)) + 0.5;
        const len = m === 1 ? 10 : 5;
        seg(a.left, py, a.left + len, py);
        seg(a.right, py, a.right - len, py);
      }
    }
    // cost ticks on bottom and top
    for (const c of costTicks) {
      const px = Math.round(xs.getPixelForValue(c)) + 0.5;
      seg(px, a.bottom, px, a.bottom - 9);
      seg(px, a.top, px, a.top + 9);
    }

    // frame
    ctx.lineWidth = 1.8;
    ctx.strokeRect(a.left, a.top, a.right - a.left, a.bottom - a.top);

    // x tick labels
    ctx.font = `24px ${FONT}`;
    ctx.fillStyle = "#111";
    ctx.textAlign = "center";
    ctx.textBaseline = "alphabetic";
    for (const c of costTicks) {
      ctx.fillText(String(c), xs.getPixelForValue(c), a.bottom + 27);
    }

    // y tick labels as 10^k
    for (const d of riskDecades) {
      const py = ys.getPixelForValue(Math.pow(10, d));
      const exp = String(d);
      ctx.font = `16px ${FONT}`;
      const ew = ctx.measureText(exp).width;
      const right = a.left - 11;
      ctx.textAlign = "left";
      ctx.fillText(exp, right - ew, py - 3);
      ctx.font = `24px ${FONT}`;
      ctx.textAlign = "right";
      ctx.fillText("10", right - ew, py + 10);
    }

    // axis titles
    ctx.font = `24px ${FONT}`;
    ctx.textAlign = "center";
    ctx.fillText(xTitle, (a.left + a.right) / 2, a.bottom + 56);
    ctx.save();
    ctx.translate(33, (a.top + a.bottom) / 2);
    ctx.rotate(-Math.PI / 2);
    ctx.fillText(yTitle, 0, 0);
    ctx.restore();

    // legend box
    const colors = [BLUE, GREEN, RED];
    const bw = 393;
    const bh = 138;
    const bx = a.right - 15 - bw;
    const by = a.top + 15;
    ctx.fillStyle = "#fff";
    ctx.fillRect(bx, by, bw, bh);
    ctx.lineWidth = 1.5;
    ctx.strokeStyle = "#000";
    ctx.strokeRect(bx, by, bw, bh);
    legendLabels.forEach((label, i) => {
      const ry = by + 25 + i * 42.5;
      ctx.strokeStyle = colors[i];
      ctx.lineWidth = 2;
      seg(bx + 20, ry, bx + 63, ry);
      ctx.fillStyle = "#111";
      ctx.font = `24px ${FONT}`;
      ctx.textAlign = "left";
      ctx.textBaseline = "middle";
      ctx.fillText(label, bx + 95, ry + 1);
    });
    ctx.restore();
  },
};

export default function App() {
  const canvasRef = useRef<HTMLCanvasElement | null>(null);

  useEffect(() => {
    const canvas = canvasRef.current;
    if (!canvas) return;

    const runSets = randomRuns.map((run, i) => ({
      data: run.map(([k, r]) => ({ x: k * 1000, y: r })),
      borderColor: greyPalette[i % greyPalette.length],
      borderWidth: 2.1,
      pointRadius: 0,
      fill: false,
      stepped: i >= 70 || slantedRuns.has(i) || i % 6 === 3 ? false : true,
      order: 10,
    }));

    const chart = new Chart(canvas, {
      type: "line",
      data: {
        datasets: [
          { label: legendLabels[2], data: toPoints(promedioCost, promedioRisk), borderColor: RED, borderWidth: 2.4, pointRadius: 0, fill: false, order: 0 },
          { label: legendLabels[0], data: toPoints(optimoCost, optimoRisk), borderColor: BLUE, borderWidth: 2, pointRadius: 0, fill: false, order: 1 },
          { label: legendLabels[1], data: toPoints(pesimoCost, pesimoRisk), borderColor: GREEN, borderWidth: 2, pointRadius: 0, fill: false, order: 2 },
          ...runSets,
        ] as any,
      },
      options: {
        animation: false,
        responsive: true,
        maintainAspectRatio: false,
        layout: { padding: { left: 112, top: 12, right: 59, bottom: 61 } },
        plugins: { legend: { display: false }, tooltip: { enabled: false } },
        scales: {
          x: { type: "linear", min: 0, max: costMax, display: false },
          y: { type: "logarithmic", min: riskMin, max: riskMax, display: false },
        },
      },
      plugins: [axesDecor],
    });

    return () => chart.destroy();
  }, []);

  return (
    <div style={{ position: "fixed", left: 0, top: 0, width: 1099, height: 791, background: "#fff" }}>
      <canvas ref={canvasRef} />
    </div>
  );
}
